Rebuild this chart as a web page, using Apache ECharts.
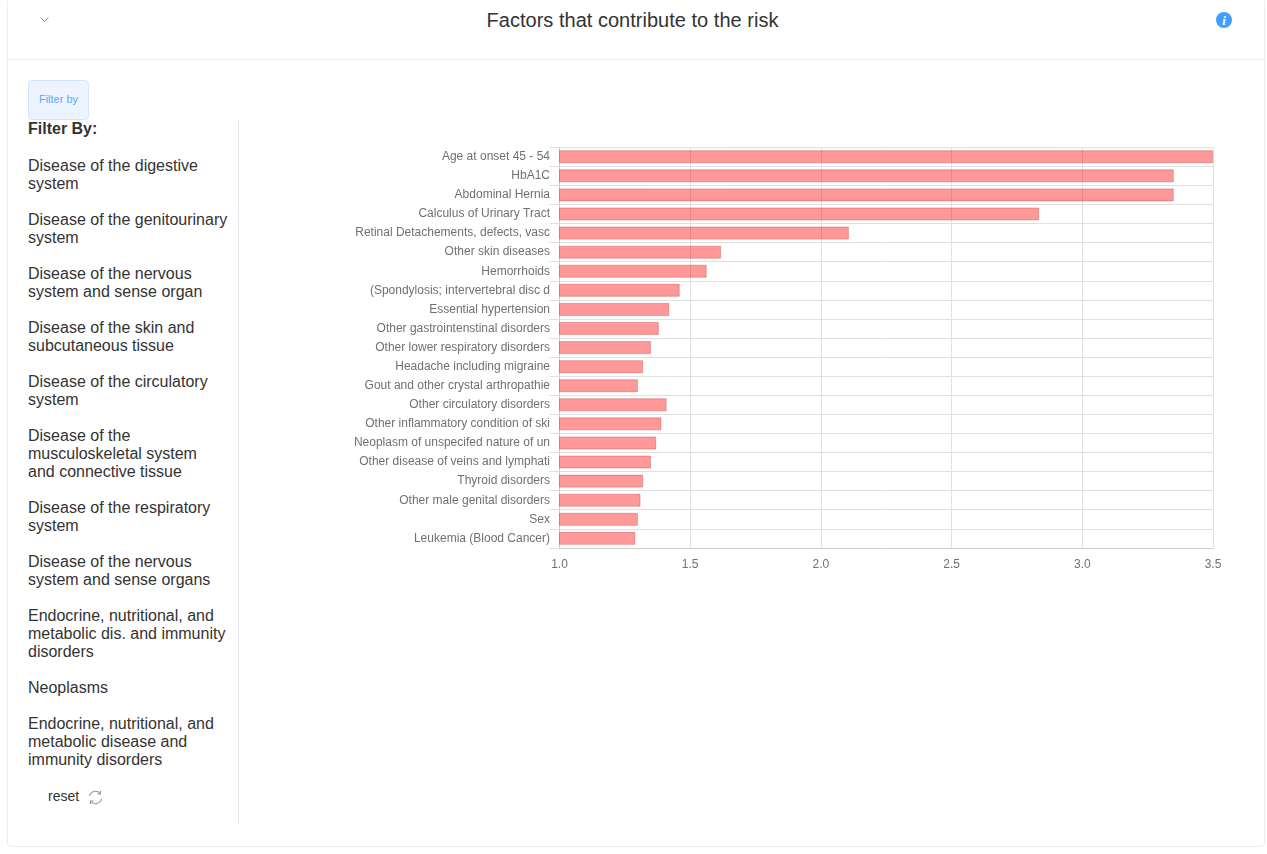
<!DOCTYPE html>
<html>
<head>
<meta charset="utf-8">
<title>Factors that contribute to the risk</title>
<script src="https://cdn.jsdelivr.net/npm/echarts@6/dist/echarts.min.js"></script>
<style>
	html, body { margin: 0; padding: 0; background: #fff; font-family: "Liberation Sans", Arial, sans-serif; color: #333; overflow: hidden; }
	#card { position: absolute; left: 7px; top: -2px; width: 1256px; height: 847px; border: 1px solid #ebeef5; border-radius: 4px; }
	#head-line { position: absolute; left: 8px; top: 59px; width: 1256px; height: 1px; background: #ebeef5; }
	#title { position: absolute; left: 0; top: 9px; width: 1265px; text-align: center; font-size: 20px; letter-spacing: 0.02px; line-height: 23px; color: #333; }
	#arrow { position: absolute; left: 39px; top: 16px; }
	#info { position: absolute; left: 1216px; top: 12px; }
	#filter-btn { position: absolute; left: 28px; top: 80px; width: 59px; height: 38px; background: #ecf5ff; border: 1px solid #d0e6fd; border-radius: 4px; color: #58a9ff; font-size: 11px; line-height: 37px; text-align: center; }
	#filter-side { position: absolute; left: 28px; top: 120px; width: 210px; height: 704px; border-right: 1px solid #e4e7ed; }
	#filter-side b { display: block; font-size: 16px; line-height: 18px; }
	#filter-side div { position: absolute; left: 0; width: 200px; font-size: 16px; line-height: 18px; }
	#reset { position: absolute; left: 48px; top: 788px; font-size: 14px; line-height: 16px; }
	#reset-icon { position: absolute; left: 88px; top: 790px; }
	#chart { position: absolute; left: 240px; top: 120px; width: 1020px; height: 480px; }
</style>
</head>
<body>
<div id="card"></div>
<div id="head-line"></div>
<div id="title">Factors that contribute to the risk</div>
<svg id="arrow" width="11" height="8" viewBox="0 0 11 8"><path d="M1.5 1.5 L5.5 5.5 L9.5 1.5" fill="none" stroke="#409eff" stroke-width="1"/></svg>
<svg id="info" width="16" height="16" viewBox="0 0 16 16"><circle cx="8" cy="8" r="8" fill="#409eff"/><text x="8" y="12.5" text-anchor="middle" font-family="Liberation Serif" font-style="italic" font-weight="bold" font-size="13" fill="#fff">i</text></svg>
<div id="filter-btn">Filter by</div>
<div id="filter-side"></div>
<div id="reset">reset</div>
<svg id="reset-icon" width="15" height="15" viewBox="0 0 15 15"><path d="M1.5 6 A6 6 0 0 1 12 3.5 M13.5 9 A6 6 0 0 1 3 11.5" fill="none" stroke="#909399" stroke-width="1.1"/><path d="M12.5 1 L12.5 4 L9.5 4 M2.5 14 L2.5 11 L5.5 11" fill="none" stroke="#909399" stroke-width="1.1"/></svg>
<div id="chart"></div>
<script>
var filterLabels = [
	'Disease of the digestive system',
	'Disease of the genitourinary system',
	'Disease of the nervous system and sense organ',
	'Disease of the skin and subcutaneous tissue',
	'Disease of the circulatory system',
	'Disease of the musculoskeletal system and connective tissue',
	'Disease of the respiratory system',
	'Disease of the nervous system and sense organs',
	'Endocrine, nutritional, and metabolic dis. and immunity disorders',
	'Neoplasms',
	'Endocrine, nutritional, and metabolic disease and immunity disorders'
];
var filterTops = [37, 91, 145, 199, 253, 307, 379, 433, 487, 559, 595];

var factors = [
	'Age at onset 45 - 54', 'HbA1C', 'Abdominal Hernia', 'Calculus of Urinary Tract',
	'Retinal Detachements, defects, vasc', 'Other skin diseases', 'Hemorrhoids',
	'(Spondylosis; intervertebral disc d', 'Essential hypertension', 'Other gastrointenstinal disorders',
	'Other lower respiratory disorders', 'Headache including migraine', 'Gout and other crystal arthropathie',
	'Other circulatory disorders', 'Other inflammatory condition of ski', 'Neoplasm of unspecifed nature of un',
	'Other disease of veins and lymphati', 'Thyroid disorders', 'Other male genital disorders',
	'Sex', 'Leukemia (Blood Cancer)'
];
var riskValues = [3.5, 3.35, 3.35, 2.835, 2.107, 1.618, 1.563, 1.46, 1.42, 1.38, 1.35,
	1.32, 1.3, 1.41, 1.39, 1.37, 1.35, 1.32, 1.31, 1.3, 1.29];

var side = document.getElementById('filter-side');
side.innerHTML = '<b>Filter By:</b>';
filterLabels.forEach(function(label, i) {
	var d = document.createElement('div');
	d.style.top = filterTops[i] + 'px';
	d.textContent = label;
	side.appendChild(d);
});

var myChart = echarts.init(document.getElementById('chart'), null, { renderer: 'canvas' });
var option = {
	animation: false,
	textStyle: { fontFamily: '"Liberation Sans", Arial, sans-serif' },
	grid: { left: 319.5, right: 47, top: 27.2, height: 400.7, containLabel: false },
	xAxis: {
		type: 'value',
		min: 1,
		max: 3.5,
		interval: 0.5,
		position: 'bottom',
		axisLine: { show: true, lineStyle: { color: '#ccc' } },
		axisTick: { show: false },
		axisLabel: { color: '#707070', fontSize: 12, margin: 11, formatter: function(v) { return v.toFixed(1); } },
		splitLine: { show: true, lineStyle: { color: '#e0e0e0' } }
	},
	yAxis: {
		type: 'category',
		inverse: true,
		data: factors,
		axisLine: { show: true, onZero: false, lineStyle: { color: '#ccc' } },
		axisTick: { show: true, length: 10, lineStyle: { color: '#e0e0e0' } },
		axisLabel: { color: '#707070', fontSize: 12, margin: 9.5, interval: 0 },
		splitLine: { show: true, lineStyle: { color: '#e0e0e0' } }
	},
	series: [{
		type: 'bar',
		data: riskValues,
		barWidth: 13,
		z: 1,
		itemStyle: {
			color: 'rgba(255, 0, 0, 0.4)',
			borderColor: 'rgba(190, 50, 50, 0.35)',
			borderWidth: 1
		}
	}]
};
myChart.setOption(option);
</script>
</body>
</html>
